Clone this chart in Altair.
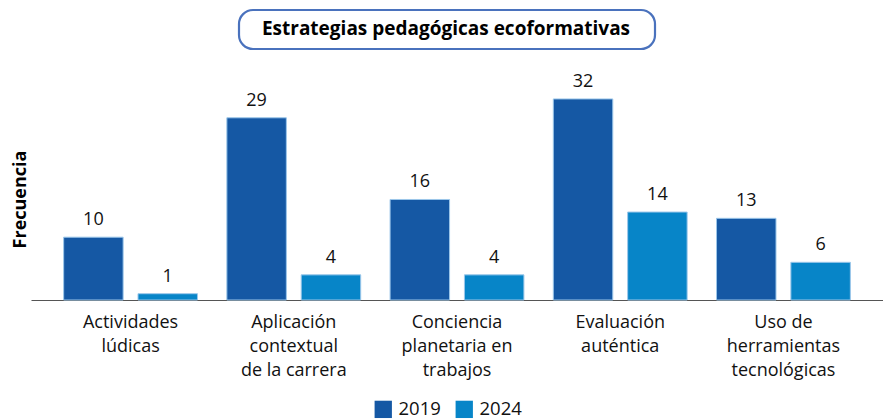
import altair as alt
import pandas as pd

categories = [
    "Actividades\nlúdicas",
    "Aplicación\ncontextual\nde la carrera",
    "Conciencia\nplanetaria en\ntrabajos",
    "Evaluación\nauténtica",
    "Uso de\nherramientas\ntecnológicas",
]
years = ["2019", "2024"]
values_2019 = [10, 29, 16, 32, 13]
values_2024 = [1, 4, 4, 14, 6]
title_text = "Estrategias pedagógicas ecoformativas"
y_title = "Frecuencia"

rows = []
for c, a, b in zip(categories, values_2019, values_2024):
    rows.append({"cat": c, "year": "2019", "value": a})
    rows.append({"cat": c, "year": "2024", "value": b})
df = pd.DataFrame(rows)

FONT = "Open Sans"
colors = ["#1558a4", "#0785c8"]

x_enc = alt.X(
    "cat:N",
    sort=categories,
    title=None,
    scale=alt.Scale(paddingInner=0.18, paddingOuter=0.2),
    axis=alt.Axis(
        labelExpr="split(datum.label, '\\n')",
        labelAngle=0,
        labelFontSize=18,
        labelFont=FONT,
        labelColor="#111",
        labelLineHeight=24,
        labelPadding=13,
        labelBaseline="top",
        ticks=False,
        domain=True,
        domainColor="#555",
        domainWidth=1.2,
    ),
)
y_enc = alt.Y(
    "value:Q",
    scale=alt.Scale(domain=[0, 38.2], nice=False),
    axis=alt.Axis(
        title=y_title,
        titleFont=FONT,
        titleFontSize=18,
        titleFontWeight="bold",
        titleColor="#000",
        titleAngle=-90,
        titleX=-11,
        titleY=139,
        titleAlign="center",
        titleBaseline="middle",
        labels=False,
        ticks=False,
        domain=False,
        grid=False,
    ),
)

base = alt.Chart(df)

bars = base.mark_bar(stroke="#9cc7ea", strokeWidth=1).encode(
    x=x_enc,
    xOffset=alt.XOffset("year:N", sort=years, scale=alt.Scale(paddingInner=0.2)),
    y=y_enc,
    color=alt.Color(
        "year:N",
        sort=years,
        scale=alt.Scale(domain=years, range=colors),
        legend=alt.Legend(
            title=None,
            orient="none",
            direction="horizontal",
            legendX=343,
            legendY=340,
            symbolType="square",
            symbolSize=300,
            symbolStrokeWidth=0,
            labelFont=FONT,
            labelFontSize=18.5,
            labelColor="#111",
            columnPadding=14,
            labelOffset=6,
        ),
    ),
)

labels = base.mark_text(
    font=FONT, fontSize=18, color="#111", dy=-12, baseline="alphabetic"
).encode(
    x=alt.X("cat:N", sort=categories),
    xOffset=alt.XOffset("year:N", sort=years),
    y="value:Q",
    text="value:Q",
)

title_box = alt.Chart(pd.DataFrame({"t": [title_text]})).mark_rect(
    fill="white", stroke="#4a72bd", strokeWidth=2.2, cornerRadius=14
).encode(
    x=alt.value(208), x2=alt.value(624), y=alt.value(-50), y2=alt.value(-11)
)
title_label = alt.Chart(pd.DataFrame({"t": [title_text]})).mark_text(
    font=FONT, fontSize=19, fontWeight="bold", color="#000", baseline="middle", align="center"
).encode(
    x=alt.value(415), y=alt.value(-31), text="t:N"
)

chart = alt.layer(bars, labels, title_box, title_label).properties(
    width=852,
    height=240,
    padding={"left": 23, "top": 52, "right": 0, "bottom": 120},
    autosize=alt.AutoSizeParams(type="none"),
).configure_view(stroke=None)

chart.save("out.html", embed_options={"renderer": "svg", "actions": False})
